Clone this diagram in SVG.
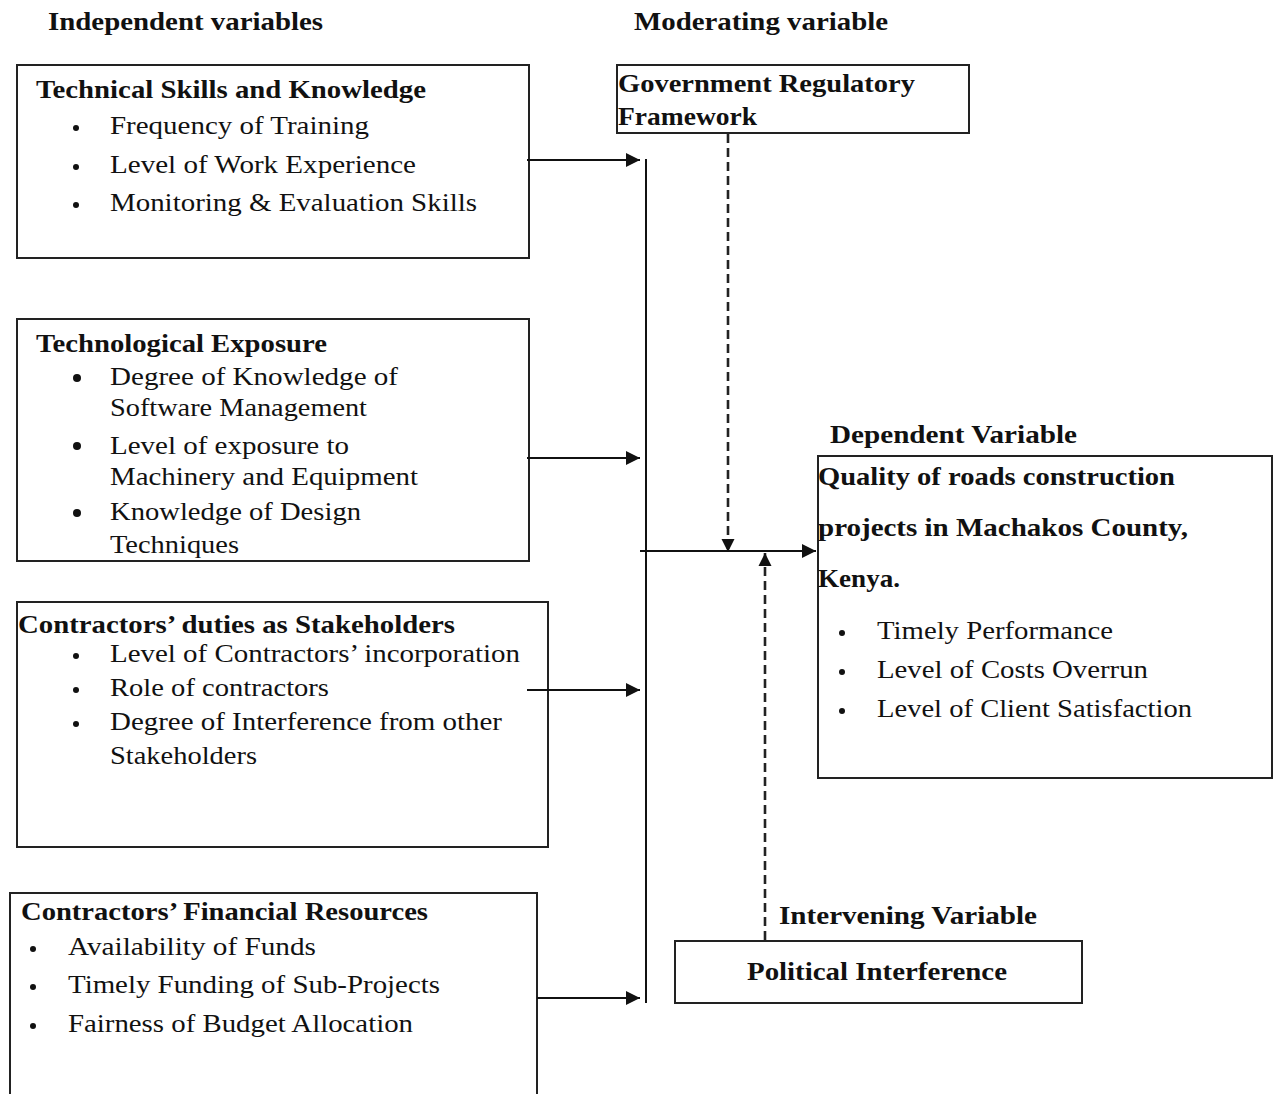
<svg xmlns="http://www.w3.org/2000/svg" width="1273" height="1094" viewBox="0 0 1273 1094">
<style>
text{font-family:"Liberation Serif","Times New Roman",Tinos,serif;fill:#111}
.b{font-weight:bold;font-size:25px}
.r{font-size:25px}
.box{fill:#fff;stroke:#222;stroke-width:2}
.ln{stroke:#111;stroke-width:2;fill:none}
.ds{stroke:#222;stroke-width:2.6;fill:none;stroke-dasharray:9 5}
.dot{fill:#111}
</style>
<defs>
<marker id="ah" viewBox="0 0 10 10" refX="10" refY="5" markerWidth="13" markerHeight="15" markerUnits="userSpaceOnUse" orient="auto">
<path d="M0,0 L10,5 L0,10 z" fill="#111"/>
</marker>
<marker id="ah2" viewBox="0 0 10 10" refX="10" refY="5" markerWidth="16" markerHeight="14" markerUnits="userSpaceOnUse" orient="auto">
<path d="M0,0 L10,5 L0,10 z" fill="#111"/>
</marker>
</defs>
<rect width="1273" height="1094" fill="#fff"/>
<text class="b" x="48" y="30" textLength="275" lengthAdjust="spacingAndGlyphs">Independent variables</text>
<text class="b" x="634" y="30" textLength="254" lengthAdjust="spacingAndGlyphs">Moderating variable</text>

<g id="technical-skills">
<rect class="box" x="17" y="65" width="512" height="193"/>
<text class="b" x="36" y="98" textLength="390" lengthAdjust="spacingAndGlyphs">Technical Skills and Knowledge</text>
<circle class="dot" cx="76" cy="128" r="3"/><text class="r" x="110" y="134" textLength="259" lengthAdjust="spacingAndGlyphs">Frequency of Training</text>
<circle class="dot" cx="76" cy="167" r="3"/><text class="r" x="110" y="173" textLength="306" lengthAdjust="spacingAndGlyphs">Level of Work Experience</text>
<circle class="dot" cx="76" cy="205" r="3"/><text class="r" x="110" y="211" textLength="367" lengthAdjust="spacingAndGlyphs">Monitoring &amp; Evaluation Skills</text>
</g>

<g id="technological-exposure">
<rect class="box" x="17" y="319" width="512" height="242"/>
<text class="b" x="36" y="352" textLength="291" lengthAdjust="spacingAndGlyphs">Technological  Exposure</text>
<circle class="dot" cx="77" cy="378" r="4"/><text class="r" x="110" y="385" textLength="288" lengthAdjust="spacingAndGlyphs">Degree of Knowledge of</text>
<text class="r" x="110" y="416" textLength="257" lengthAdjust="spacingAndGlyphs">Software Management</text>
<circle class="dot" cx="77" cy="446" r="4"/><text class="r" x="110" y="454" textLength="239" lengthAdjust="spacingAndGlyphs">Level of exposure to</text>
<text class="r" x="110" y="485" textLength="308" lengthAdjust="spacingAndGlyphs">Machinery  and Equipment</text>
<circle class="dot" cx="77" cy="513" r="4"/><text class="r" x="110" y="520" textLength="251" lengthAdjust="spacingAndGlyphs">Knowledge  of Design</text>
<text class="r" x="110" y="553" textLength="129" lengthAdjust="spacingAndGlyphs">Techniques</text>
</g>

<g id="contractors-duties">
<rect class="box" x="17" y="602" width="531" height="245"/>
<text class="b" x="18" y="633" textLength="437" lengthAdjust="spacingAndGlyphs">Contractors’ duties as Stakeholders</text>
<circle class="dot" cx="76" cy="656" r="3"/><text class="r" x="110" y="662" textLength="410" lengthAdjust="spacingAndGlyphs">Level of Contractors’ incorporation</text>
<circle class="dot" cx="76" cy="690" r="3"/><text class="r" x="110" y="696" textLength="219" lengthAdjust="spacingAndGlyphs">Role of contractors</text>
<circle class="dot" cx="76" cy="724" r="3"/><text class="r" x="110" y="730" textLength="392" lengthAdjust="spacingAndGlyphs">Degree of Interference from other</text>
<text class="r" x="110" y="764" textLength="147" lengthAdjust="spacingAndGlyphs">Stakeholders</text>
</g>

<g id="financial-resources">
<rect class="box" x="10" y="893" width="527" height="215"/>
<text class="b" x="21" y="920" textLength="407" lengthAdjust="spacingAndGlyphs">Contractors’ Financial Resources</text>
<circle class="dot" cx="33" cy="949" r="3"/><text class="r" x="68" y="955" textLength="248" lengthAdjust="spacingAndGlyphs">Availability of Funds</text>
<circle class="dot" cx="33" cy="987" r="3"/><text class="r" x="68" y="993" textLength="372" lengthAdjust="spacingAndGlyphs">Timely Funding of Sub-Projects</text>
<circle class="dot" cx="33" cy="1026" r="3"/><text class="r" x="68" y="1032" textLength="345" lengthAdjust="spacingAndGlyphs">Fairness of Budget Allocation</text>
</g>

<g id="government-regulatory">
<rect class="box" x="617" y="65" width="352" height="68"/>
<text class="b" x="618" y="92" textLength="297" lengthAdjust="spacingAndGlyphs">Government  Regulatory</text>
<text class="b" x="618" y="125" textLength="139" lengthAdjust="spacingAndGlyphs">Framework</text>
</g>

<text class="b" x="830" y="443" textLength="247" lengthAdjust="spacingAndGlyphs">Dependent Variable</text>
<g id="quality-roads">
<rect class="box" x="818" y="456" width="454" height="322"/>
<text class="b" x="818" y="485" textLength="357" lengthAdjust="spacingAndGlyphs">Quality of roads  construction</text>
<text class="b" x="818" y="536" textLength="370" lengthAdjust="spacingAndGlyphs">projects in Machakos  County,</text>
<text class="b" x="818" y="587" textLength="82" lengthAdjust="spacingAndGlyphs">Kenya.</text>
<circle class="dot" cx="842" cy="633" r="3"/><text class="r" x="877" y="639" textLength="236" lengthAdjust="spacingAndGlyphs">Timely  Performance</text>
<circle class="dot" cx="842" cy="672" r="3"/><text class="r" x="877" y="678" textLength="271" lengthAdjust="spacingAndGlyphs">Level of Costs Overrun</text>
<circle class="dot" cx="842" cy="711" r="3"/><text class="r" x="877" y="717" textLength="315" lengthAdjust="spacingAndGlyphs">Level of Client Satisfaction</text>
</g>

<text class="b" x="779" y="924" textLength="258" lengthAdjust="spacingAndGlyphs">Intervening Variable</text>
<g id="political-interference">
<rect class="box" x="675" y="941" width="407" height="62"/>
<text class="b" x="747" y="980" textLength="260" lengthAdjust="spacingAndGlyphs">Political Interference</text>
</g>

<g id="connectors">
<line class="ln" x1="646" y1="159" x2="646" y2="1003"/>
<line class="ln" x1="527" y1="160" x2="640" y2="160" marker-end="url(#ah2)"/>
<line class="ln" x1="527" y1="458" x2="640" y2="458" marker-end="url(#ah2)"/>
<line class="ln" x1="527" y1="690" x2="640" y2="690" marker-end="url(#ah2)"/>
<line class="ln" x1="537" y1="998" x2="640" y2="998" marker-end="url(#ah2)"/>
<line class="ln" x1="640" y1="551" x2="816" y2="551" marker-end="url(#ah2)"/>
<line class="ds" x1="728" y1="134" x2="728" y2="552" marker-end="url(#ah)"/>
<line class="ds" x1="765" y1="940" x2="765" y2="553" marker-end="url(#ah)"/>
</g>
</svg>
